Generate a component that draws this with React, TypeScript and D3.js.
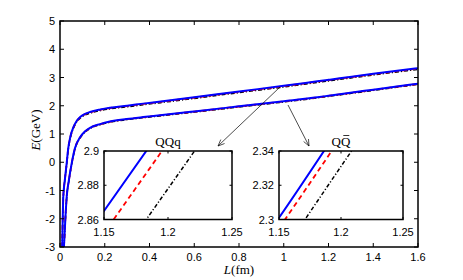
import React from "react";
import * as d3 from "d3";

// ---- data ----
const L_QQq = [0.0096, 0.0103, 0.0147, 0.022, 0.03, 0.037, 0.045, 0.06, 0.075, 0.09, 0.112, 0.134, 0.18, 0.223, 0.3, 0.372, 0.45, 0.6, 0.8, 1.0, 1.15, 1.2, 1.25, 1.4, 1.6];
const E_QQq_blue = [-3.0, -2.75, -1.22, -0.6, -0.02, 0.5, 0.86, 1.24, 1.47, 1.6, 1.71, 1.78, 1.87, 1.93, 2.0, 2.075, 2.15, 2.3, 2.505, 2.705, 2.865, 2.918, 2.971, 3.13, 3.33];
const E_QQq_red = [-3.0, -2.75, -1.22, -0.6, -0.03, 0.49, 0.85, 1.23, 1.46, 1.59, 1.7, 1.768, 1.858, 1.918, 1.988, 2.063, 2.138, 2.288, 2.492, 2.692, 2.852, 2.905, 2.958, 3.117, 3.317];
const E_QQq_black = [-3.0, -2.76, -1.24, -0.62, -0.06, 0.46, 0.82, 1.2, 1.43, 1.56, 1.67, 1.74, 1.83, 1.89, 1.96, 2.035, 2.11, 2.26, 2.465, 2.665, 2.825, 2.878, 2.931, 3.09, 3.29];

const L_QQbar = [0.0175, 0.0192, 0.025, 0.03, 0.04, 0.052, 0.067, 0.089, 0.11, 0.134, 0.179, 0.223, 0.298, 0.372, 0.447, 0.6, 0.8, 1.0, 1.15, 1.2, 1.25, 1.4, 1.6];
const E_QQbar_blue = [-3.0, -2.75, -1.85, -1.22, -0.62, -0.05, 0.5, 0.88, 1.08, 1.22, 1.35, 1.44, 1.53, 1.6, 1.665, 1.8, 1.98, 2.16, 2.301, 2.355, 2.41, 2.57, 2.78];
const E_QQbar_red = [-3.0, -2.75, -1.85, -1.22, -0.63, -0.06, 0.49, 0.87, 1.07, 1.213, 1.343, 1.433, 1.523, 1.593, 1.658, 1.793, 1.973, 2.153, 2.295, 2.348, 2.401, 2.562, 2.772];
const E_QQbar_black = [-3.0, -2.77, -1.87, -1.24, -0.65, -0.08, 0.47, 0.85, 1.05, 1.195, 1.325, 1.415, 1.505, 1.575, 1.64, 1.775, 1.955, 2.135, 2.278, 2.331, 2.384, 2.545, 2.755];

const xTicks = [0, 0.2, 0.4, 0.6, 0.8, 1, 1.2, 1.4, 1.6];
const xTickLabels = ["0", "0.2", "0.4", "0.6", "0.8", "1", "1.2", "1.4", "1.6"];
const yTicks = [-3, -2, -1, 0, 1, 2, 3, 4, 5];
const yTickLabels = ["-3", "-2", "-1", "0", "1", "2", "3", "4", "5"];

const insetXTicks = [1.15, 1.2, 1.25];
const insetXTickLabels = ["1.15", "1.2", "1.25"];
const insetQQqYTicks = [2.86, 2.88, 2.9];
const insetQQqYTickLabels = ["2.86", "2.88", "2.9"];
const insetQQbarYTicks = [2.3, 2.32, 2.34];
const insetQQbarYTickLabels = ["2.3", "2.32", "2.34"];

const SANS = "'Liberation Sans', Arial, Helvetica, sans-serif";
const SERIF = "'Liberation Serif', 'Times New Roman', serif";

// drawing order: black, red, then blue on top
const seriesStyles = [
  { idx: 2, color: "#000000", dash: "4,2,1.2,2" as string | undefined, width: 1.5 },
  { idx: 1, color: "#ff0000", dash: "5,3.5" as string | undefined, width: 1.8 },
  { idx: 0, color: "#0000ff", dash: undefined as string | undefined, width: 2 },
];

const families = [
  { L: L_QQq, E: [E_QQq_blue, E_QQq_red, E_QQq_black] },
  { L: L_QQbar, E: [E_QQbar_blue, E_QQbar_red, E_QQbar_black] },
];

function Curves({ x, y, fams }: { x: d3.ScaleLinear<number, number>; y: d3.ScaleLinear<number, number>; fams: typeof families }) {
  const line = d3
    .line<[number, number]>()
    .x((d) => x(d[0]))
    .y((d) => y(d[1]))
    .curve(d3.curveMonotoneX);
  const out: React.ReactNode[] = [];
  seriesStyles.forEach((s) => {
    fams.forEach((f, fi) => {
      const pts = f.L.map((l, i) => [l, f.E[s.idx][i]] as [number, number]);
      out.push(
        <path
          key={`${s.idx}-${fi}`}
          d={line(pts) || ""}
          fill="none"
          stroke={s.color}
          strokeWidth={s.width}
          strokeDasharray={s.dash}
        />
      );
    });
  });
  return <g>{out}</g>;
}

function Inset({
  id, left, right, top, bottom, yDomain, yTicksArr, yLabels, fam, title, bar,
}: {
  id: string; left: number; right: number; top: number; bottom: number;
  yDomain: [number, number]; yTicksArr: number[]; yLabels: string[];
  fam: (typeof families)[number]; title: string; bar?: boolean;
}) {
  const x = d3.scaleLinear().domain([1.15, 1.25]).range([left, right]);
  const y = d3.scaleLinear().domain(yDomain).range([bottom, top]);
  const tl = 2.5;
  const cx = (left + right) / 2;
  return (
    <g>
      <rect x={left} y={top} width={right - left} height={bottom - top} fill="#fff" />
      <clipPath id={id}>
        <rect x={left} y={top} width={right - left} height={bottom - top} />
      </clipPath>
      <g clipPath={`url(#${id})`}>
        <Curves x={x} y={y} fams={[fam]} />
      </g>
      <rect x={left} y={top} width={right - left} height={bottom - top} fill="none" stroke="#000" strokeWidth={1.5} />
      {insetXTicks.map((t, i) => (
        <g key={"x" + i}>
          <line x1={x(t)} x2={x(t)} y1={bottom} y2={bottom - tl} stroke="#000" strokeWidth={1} />
          <line x1={x(t)} x2={x(t)} y1={top} y2={top + tl} stroke="#000" strokeWidth={1} />
          <text x={x(t)} y={bottom + 16} textAnchor="middle" fontFamily={SANS} fontSize={11} fill="#000">
            {insetXTickLabels[i]}
          </text>
        </g>
      ))}
      {yTicksArr.map((t, i) => (
        <g key={"y" + i}>
          <line x1={left} x2={left + tl} y1={y(t)} y2={y(t)} stroke="#000" strokeWidth={1} />
          <line x1={right} x2={right - tl} y1={y(t)} y2={y(t)} stroke="#000" strokeWidth={1} />
          <text x={left - 5} y={y(t) + 4} textAnchor="end" fontFamily={SANS} fontSize={11} fill="#000">
            {yLabels[i]}
          </text>
        </g>
      ))}
      <text x={cx} y={top - 5.5} textAnchor="middle" fontFamily={SERIF} fontSize={13} fill="#000">
        {title}
      </text>
      {bar && <line x1={cx + 2.3} x2={cx + 8.3} y1={top - 15.5} y2={top - 15.5} stroke="#000" strokeWidth={0.8} />}
    </g>
  );
}

function Arrow({ x1, y1, x2, y2 }: { x1: number; y1: number; x2: number; y2: number }) {
  const ang = Math.atan2(y2 - y1, x2 - x1);
  const len = 7;
  const spread = 0.4;
  const a1 = ang + Math.PI - spread;
  const a2 = ang + Math.PI + spread;
  return (
    <g stroke="#000" strokeWidth={0.7} fill="none">
      <line x1={x1} y1={y1} x2={x2} y2={y2} />
      <polyline
        points={`${x2 + len * Math.cos(a1)},${y2 + len * Math.sin(a1)} ${x2},${y2} ${x2 + len * Math.cos(a2)},${y2 + len * Math.sin(a2)}`}
      />
    </g>
  );
}

export default function App() {
  const W = 463, H = 280;
  const left = 60, right = 418, top = 21, bottom = 247;
  const x = d3.scaleLinear().domain([0, 1.6]).range([left, right]);
  const y = d3.scaleLinear().domain([-3, 5]).range([bottom, top]);
  const tl = 4;
  return (
    <svg width={W} height={H} style={{ position: "absolute", left: 0, top: 0, background: "#fff" }}>
      <rect width={W} height={H} fill="#fff" />
      <clipPath id="mainclip">
        <rect x={left} y={top} width={right - left} height={bottom - top} />
      </clipPath>
      <g clipPath="url(#mainclip)">
        <Curves x={x} y={y} fams={families} />
      </g>
      <rect x={left} y={top} width={right - left} height={bottom - top} fill="none" stroke="#000" strokeWidth={1.5} />
      {xTicks.map((t, i) => (
        <g key={"x" + i}>
          <line x1={x(t)} x2={x(t)} y1={bottom} y2={bottom - tl} stroke="#000" strokeWidth={1} />
          <line x1={x(t)} x2={x(t)} y1={top} y2={top + tl} stroke="#000" strokeWidth={1} />
          <text x={x(t)} y={bottom + 14} textAnchor="middle" fontFamily={SANS} fontSize={11} fill="#000">
            {xTickLabels[i]}
          </text>
        </g>
      ))}
      {yTicks.map((t, i) => (
        <g key={"y" + i}>
          <line x1={left} x2={left + tl} y1={y(t)} y2={y(t)} stroke="#000" strokeWidth={1} />
          <line x1={right} x2={right - tl} y1={y(t)} y2={y(t)} stroke="#000" strokeWidth={1} />
          <text x={left - 5} y={y(t) + 4} textAnchor="end" fontFamily={SANS} fontSize={11} fill="#000">
            {yTickLabels[i]}
          </text>
        </g>
      ))}
      <text x={(left + right) / 2} y={274} textAnchor="middle" fontFamily={SERIF} fontSize={13} fill="#000">
        <tspan fontStyle="italic">L</tspan>(fm)
      </text>
      <text
        transform={`translate(40, ${(top + bottom) / 2 - 4}) rotate(-90)`}
        textAnchor="middle"
        fontFamily={SERIF}
        fontSize={13}
        fill="#000"
      >
        <tspan fontStyle="italic">E</tspan>(GeV)
      </text>

      <Arrow x1={280} y1={87} x2={218} y2={146} />
      <Arrow x1={288} y1={105} x2={309} y2={146} />

      <Inset
        id="inset1"
        left={104}
        right={232}
        top={151}
        bottom={219.5}
        yDomain={[2.86, 2.9]}
        yTicksArr={insetQQqYTicks}
        yLabels={insetQQqYTickLabels}
        fam={families[0]}
        title="QQq"
      />
      <Inset
        id="inset2"
        left={279}
        right={403}
        top={151}
        bottom={219.5}
        yDomain={[2.3, 2.34]}
        yTicksArr={insetQQbarYTicks}
        yLabels={insetQQbarYTickLabels}
        fam={families[1]}
        title="QQ"
        bar
      />
    </svg>
  );
}
